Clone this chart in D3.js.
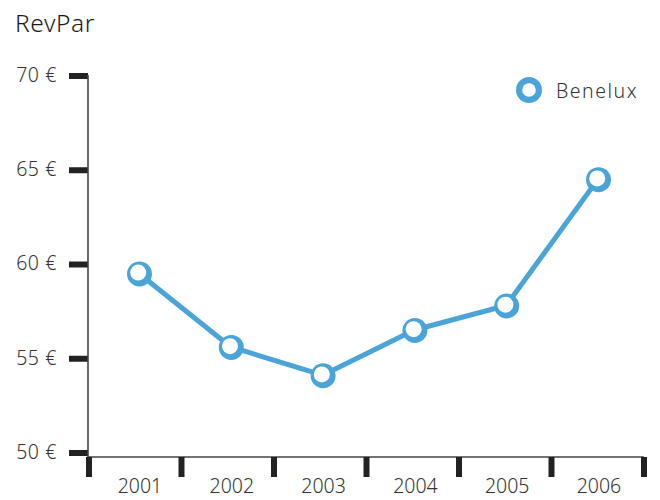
<!DOCTYPE html>
<html>
<head>
<meta charset="utf-8">
<script src="https://cdn.jsdelivr.net/npm/d3@7"></script>
<style>
  html, body { margin: 0; padding: 0; background: #fff; }
  svg text { font-family: "Noto Sans", "Open Sans", sans-serif; font-weight: 300; }
</style>
</head>
<body>
<svg id="chart" width="660" height="500"></svg>
<script>
const years = ["2001", "2002", "2003", "2004", "2005", "2006"];
const revpar = [59.5, 55.6, 54.1, 56.5, 57.8, 64.5];
const yTicks = [50, 55, 60, 65, 70];
const seriesName = "Benelux";
const title = "RevPar";

const svg = d3.select("#chart");
const blue = "#4aa4d7";

const y = d3.scaleLinear().domain([50, 70]).range([452.5, 75.5]);
const xBand = d3.scaleBand().domain(years).range([89, 644]);
const xPt = d3.scalePoint().domain(years).range([139, 598]);

const axisY0 = 88, axisX0 = 457;

// title
svg.append("text").attr("x", 15).attr("y", 32)
  .attr("font-size", 24.5).attr("font-weight", 400).attr("letter-spacing", 0.6)
  .attr("fill", "#1a1a1a").text(title);

// y axis
const yAxis = d3.axisLeft(y).tickValues(yTicks).tickSize(19).tickPadding(12)
  .tickFormat(d => d + " €");
const gy = svg.append("g").attr("transform", `translate(${axisY0},0)`).call(yAxis);
gy.select(".domain").remove();
gy.selectAll(".tick line").attr("stroke", "#222").attr("stroke-width", 6);
gy.selectAll(".tick text").attr("font-size", 19.5).attr("fill", "#333")
  .attr("font-family", null).attr("letter-spacing", 0.6).attr("dy", "0.3em");

// axis lines
svg.append("line").attr("x1", axisY0).attr("x2", axisY0)
  .attr("y1", y(70) - 0.5).attr("y2", axisX0 + 1)
  .attr("stroke", "#444").attr("stroke-width", 1.6);
svg.append("line").attr("x1", axisY0).attr("x2", xBand.range()[1])
  .attr("y1", axisX0).attr("y2", axisX0)
  .attr("stroke", "#444").attr("stroke-width", 1.6);

// x ticks at band boundaries
const edges = years.map(d => xBand(d)).concat([xBand.range()[1]]);
svg.append("g").selectAll("line").data(edges).join("line")
  .attr("x1", d => d).attr("x2", d => d)
  .attr("y1", axisX0).attr("y2", axisX0 + 20)
  .attr("stroke", "#222").attr("stroke-width", 6);

// x labels
svg.append("g").selectAll("text").data(years).join("text")
  .attr("x", d => xPt(d) + 1).attr("y", 493)
  .attr("text-anchor", "middle").attr("font-size", 19.5).attr("fill", "#333")
  .text(d => d);

// line
const data = years.map((d, i) => ({ year: d, v: revpar[i] }));
svg.append("path").datum(data)
  .attr("fill", "none").attr("stroke", blue).attr("stroke-width", 5)
  .attr("stroke-linejoin", "round")
  .attr("d", d3.line().x(d => xPt(d.year)).y(d => y(d.v)));

// markers
const mk = svg.append("g").selectAll("g").data(data).join("g")
  .attr("transform", d => `translate(${xPt(d.year)},${y(d.v)})`);
mk.append("circle").attr("r", 12.5).attr("cx", 0.5).attr("cy", 0.5).attr("fill", blue);
mk.append("circle").attr("r", 8).attr("cx", -0.8).attr("cy", -0.8).attr("fill", "#fff");

// legend
const lg = svg.append("g").attr("transform", "translate(529,90)");
lg.append("circle").attr("r", 13).attr("fill", blue);
lg.append("circle").attr("r", 6.8).attr("fill", "#fff");
lg.append("text").attr("x", 27).attr("y", 7.5).attr("font-size", 19.5)
  .attr("letter-spacing", 1.5).attr("fill", "#333").text(seriesName);
</script>
</body>
</html>
